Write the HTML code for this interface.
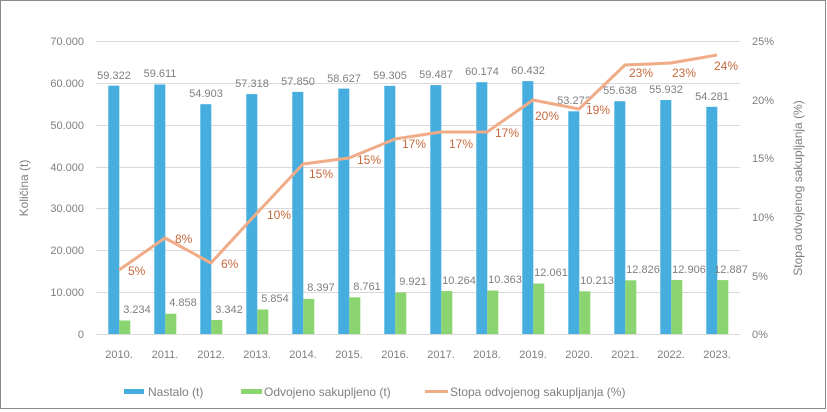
<!DOCTYPE html>
<html><head><meta charset="utf-8"><style>
body{margin:0;background:#fff;}
svg{display:block;font-family:"Liberation Sans",sans-serif;}
</style></head><body>
<svg width="827" height="412" viewBox="0 0 827 412">
<rect x="0.5" y="0.5" width="825" height="408" fill="#fff" stroke="#8a8a8a" stroke-width="1"/>
<g stroke="#d9d9d9" stroke-width="1">
<line x1="96" x2="740" y1="41.5" y2="41.5"/><line x1="96" x2="740" y1="83.5" y2="83.5"/>
<line x1="96" x2="740" y1="125.5" y2="125.5"/><line x1="96" x2="740" y1="167.5" y2="167.5"/>
<line x1="96" x2="740" y1="208.5" y2="208.5"/><line x1="96" x2="740" y1="250.5" y2="250.5"/>
<line x1="96" x2="740" y1="292.5" y2="292.5"/><line x1="96" x2="740" y1="334.5" y2="334.5"/>
</g>
<g fill="#7f7f7f" font-size="11" text-anchor="end">
<text x="84" y="45">70.000</text><text x="84" y="87">60.000</text><text x="84" y="129">50.000</text>
<text x="84" y="171">40.000</text><text x="84" y="212">30.000</text><text x="84" y="254">20.000</text>
<text x="84" y="296">10.000</text><text x="84" y="338">0</text>
</g>
<g fill="#7f7f7f" font-size="11" text-anchor="start">
<text x="752" y="45">25%</text><text x="752" y="104">20%</text><text x="752" y="162">15%</text>
<text x="752" y="221">10%</text><text x="752" y="280">5%</text><text x="752" y="338">0%</text>
</g>
<text transform="translate(28,188) rotate(-90)" fill="#7f7f7f" font-size="12" text-anchor="middle">Količina (t)</text>
<text transform="translate(802,188) rotate(-90)" fill="#7f7f7f" font-size="12" text-anchor="middle">Stopa odvojenog sakupljanja (%)</text>
<g font-size="11" fill="#7f7f7f" text-anchor="middle">
<rect x="108.3" y="85.7" width="11" height="248.3" fill="#45aedf"/><text x="114" y="79">59.322</text>
<rect x="119.3" y="320.5" width="11" height="13.5" fill="#8ad56f"/><text x="137" y="313">3.234</text>
<rect x="154.3" y="84.5" width="11" height="249.5" fill="#45aedf"/><text x="160" y="77">59.611</text>
<rect x="165.3" y="313.7" width="11" height="20.3" fill="#8ad56f"/><text x="183" y="306">4.858</text>
<rect x="200.3" y="104.2" width="11" height="229.8" fill="#45aedf"/><text x="206" y="97">54.903</text>
<rect x="211.3" y="320.0" width="11" height="14.0" fill="#8ad56f"/><text x="229" y="313">3.342</text>
<rect x="246.3" y="94.1" width="11" height="239.9" fill="#45aedf"/><text x="252" y="87">57.318</text>
<rect x="257.3" y="309.5" width="11" height="24.5" fill="#8ad56f"/><text x="275" y="302">5.854</text>
<rect x="292.3" y="91.9" width="11" height="242.1" fill="#45aedf"/><text x="298" y="85">57.850</text>
<rect x="303.3" y="298.9" width="11" height="35.1" fill="#8ad56f"/><text x="321" y="291">8.397</text>
<rect x="338.3" y="88.6" width="11" height="245.4" fill="#45aedf"/><text x="344" y="82">58.627</text>
<rect x="349.3" y="297.3" width="11" height="36.7" fill="#8ad56f"/><text x="367" y="290">8.761</text>
<rect x="384.3" y="85.8" width="11" height="248.2" fill="#45aedf"/><text x="390" y="79">59.305</text>
<rect x="395.3" y="292.5" width="11" height="41.5" fill="#8ad56f"/><text x="413" y="285">9.921</text>
<rect x="430.3" y="85.1" width="11" height="248.9" fill="#45aedf"/><text x="436" y="78">59.487</text>
<rect x="441.3" y="291.1" width="11" height="42.9" fill="#8ad56f"/><text x="459" y="284">10.264</text>
<rect x="476.3" y="82.2" width="11" height="251.8" fill="#45aedf"/><text x="482" y="75">60.174</text>
<rect x="487.3" y="290.6" width="11" height="43.4" fill="#8ad56f"/><text x="505" y="283">10.363</text>
<rect x="522.3" y="81.1" width="11" height="252.9" fill="#45aedf"/><text x="528" y="74">60.432</text>
<rect x="533.3" y="283.5" width="11" height="50.5" fill="#8ad56f"/><text x="551" y="276">12.061</text>
<rect x="568.3" y="111.3" width="11" height="222.7" fill="#45aedf"/><text x="574" y="104">53.272</text>
<rect x="579.3" y="291.3" width="11" height="42.7" fill="#8ad56f"/><text x="597" y="284">10.213</text>
<rect x="614.3" y="101.2" width="11" height="232.8" fill="#45aedf"/><text x="620" y="94">55.638</text>
<rect x="625.3" y="280.3" width="11" height="53.7" fill="#8ad56f"/><text x="643" y="273">12.826</text>
<rect x="660.3" y="100.0" width="11" height="234.0" fill="#45aedf"/><text x="666" y="93">55.932</text>
<rect x="671.3" y="280.0" width="11" height="54.0" fill="#8ad56f"/><text x="689" y="273">12.906</text>
<rect x="706.3" y="106.8" width="11" height="227.2" fill="#45aedf"/><text x="712" y="100">54.281</text>
<rect x="717.3" y="280.1" width="11" height="53.9" fill="#8ad56f"/><text x="731" y="273">12.887</text>
</g>
<polyline fill="none" stroke="#f0ab87" stroke-width="3" stroke-linejoin="round" points="119,270 165,238 211,263 257,213 303,164 349,158 395,139 441,132 487,132 533,100 579,109 625,65 671,63 717,55"/>
<g fill="#c4693c" font-size="12">
<text x="128" y="275">5%</text><text x="175" y="243">8%</text><text x="221" y="268">6%</text>
<text x="267" y="219">10%</text><text x="309" y="178">15%</text><text x="357" y="164">15%</text>
<text x="402" y="148">17%</text><text x="449" y="148">17%</text><text x="495" y="137">17%</text>
<text x="535" y="120">20%</text><text x="586" y="114">19%</text><text x="629" y="77">23%</text>
<text x="672" y="77">23%</text><text x="714" y="70">24%</text>
</g>
<g fill="#7f7f7f" font-size="11" text-anchor="middle">
<text x="119" y="358">2010.</text><text x="165" y="358">2011.</text><text x="211" y="358">2012.</text>
<text x="257" y="358">2013.</text><text x="303" y="358">2014.</text><text x="349" y="358">2015.</text>
<text x="395" y="358">2016.</text><text x="441" y="358">2017.</text><text x="487" y="358">2018.</text>
<text x="533" y="358">2019.</text><text x="579" y="358">2020.</text><text x="625" y="358">2021.</text>
<text x="671" y="358">2022.</text><text x="717" y="358">2023.</text>
</g>
<rect x="124" y="389" width="20" height="5" fill="#45aedf"/>
<text x="148" y="396" fill="#7f7f7f" font-size="12">Nastalo (t)</text>
<rect x="241" y="389" width="21" height="5" fill="#8ad56f"/>
<text x="264" y="396" fill="#7f7f7f" font-size="12">Odvojeno sakupljeno (t)</text>
<rect x="425" y="390" width="23" height="3" fill="#f0ab87"/>
<text x="450" y="396" fill="#7f7f7f" font-size="12">Stopa odvojenog sakupljanja (%)</text>
</svg>
</body></html>
